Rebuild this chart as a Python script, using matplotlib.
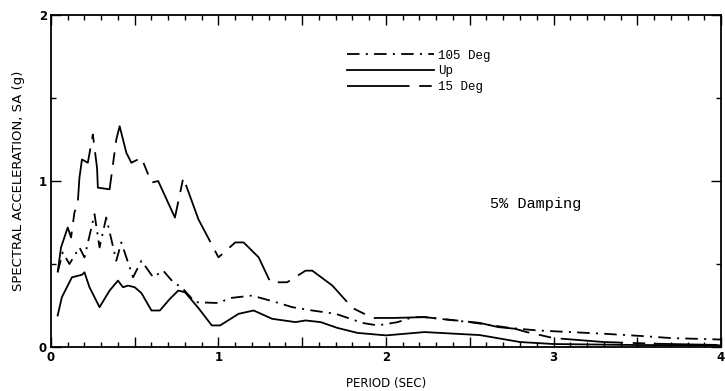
import numpy as np
import matplotlib
matplotlib.use("Agg")
import matplotlib.pyplot as plt
from matplotlib.ticker import MultipleLocator, FuncFormatter

period_15 = [0.04, 0.06, 0.10, 0.12, 0.14, 0.16, 0.17, 0.185, 0.22, 0.25, 0.275, 0.28,
             0.35, 0.39, 0.41, 0.45, 0.48, 0.54, 0.60, 0.64, 0.74, 0.79, 0.88, 1.0,
             1.10, 1.15, 1.24, 1.31, 1.41, 1.52, 1.56, 1.68, 1.80, 1.92, 2.04, 2.23,
             2.42, 2.56, 2.67, 2.77, 2.84, 3.0, 3.3, 3.6, 4.0]
sa_15 = [0.45, 0.60, 0.72, 0.66, 0.81, 0.87, 1.02, 1.13, 1.11, 1.28, 1.08, 0.96,
         0.95, 1.25, 1.33, 1.17, 1.11, 1.14, 0.99, 1.0, 0.78, 1.02, 0.77, 0.54,
         0.63, 0.63, 0.54, 0.39, 0.39, 0.46, 0.46, 0.37, 0.235, 0.175, 0.175, 0.18,
         0.16, 0.145, 0.12, 0.11, 0.09, 0.054, 0.03, 0.02, 0.012]

period_105 = [0.04, 0.07, 0.11, 0.17, 0.20, 0.26, 0.29, 0.33, 0.39, 0.42, 0.49, 0.54,
              0.61, 0.67, 0.73, 0.78, 0.86, 1.0, 1.07, 1.2, 1.36, 1.44, 1.56, 1.70,
              1.86, 1.95, 2.07, 2.16, 2.23, 2.5, 2.74, 2.90, 3.10, 3.30, 3.53, 3.7, 4.0]
sa_105 = [0.45, 0.57, 0.50, 0.60, 0.54, 0.80, 0.60, 0.78, 0.52, 0.63, 0.42, 0.52,
          0.42, 0.46, 0.39, 0.36, 0.27, 0.265, 0.295, 0.31, 0.265, 0.24, 0.22, 0.20,
          0.145, 0.13, 0.15, 0.18, 0.18, 0.15, 0.115, 0.10, 0.09, 0.08, 0.066, 0.054, 0.045]

period_up = [0.04, 0.065, 0.095, 0.125, 0.185, 0.2, 0.23, 0.29, 0.35, 0.40, 0.43, 0.46,
             0.50, 0.54, 0.60, 0.65, 0.71, 0.76, 0.80, 0.88, 0.96, 1.01, 1.12, 1.21,
             1.32, 1.46, 1.52, 1.61, 1.71, 1.83, 2.0, 2.23, 2.56, 2.8, 3.0, 3.5, 4.0]
sa_up = [0.19, 0.30, 0.36, 0.42, 0.435, 0.45, 0.36, 0.24, 0.34, 0.40, 0.36, 0.37,
         0.36, 0.325, 0.22, 0.22, 0.29, 0.34, 0.33, 0.235, 0.13, 0.13, 0.20, 0.22,
         0.17, 0.15, 0.16, 0.15, 0.115, 0.085, 0.07, 0.09, 0.072, 0.03, 0.018, 0.012, 0.01]

plt.rcParams["lines.scale_dashes"] = False

fig = plt.figure(figsize=(7.25, 3.91), dpi=100)
ax = fig.add_axes([0.0703, 0.1125, 0.9242, 0.8491])

lw = 1.3
ax.plot(period_105, sa_105, color="black", lw=lw, linestyle=(0, (9, 4.5, 1.5, 4.5)), label="105 Deg")
ax.plot(period_up, sa_up, color="black", lw=lw, linestyle="-", label="Up")
ax.plot(period_15, sa_15, color="black", lw=lw, linestyle=(0, (45, 7, 9, 7)), label="15 Deg")

ax.set_xlim(0, 4)
ax.set_ylim(0, 2)

ax.xaxis.set_major_locator(MultipleLocator(0.5))
ax.xaxis.set_minor_locator(MultipleLocator(0.1))
ax.yaxis.set_major_locator(MultipleLocator(1))
ax.yaxis.set_minor_locator(MultipleLocator(0.5))
ax.xaxis.set_major_formatter(FuncFormatter(lambda v, p: "%d" % v if abs(v - round(v)) < 1e-6 else ""))
ax.yaxis.set_major_formatter(FuncFormatter(lambda v, p: "%d" % v))

ax.tick_params(which="both", direction="in", top=True, right=True, width=1.0,
               labelsize=8.5, pad=3)
ax.tick_params(which="major", length=7)
ax.tick_params(which="minor", length=3.5)
for lbl in ax.get_xticklabels() + ax.get_yticklabels():
    lbl.set_fontweight("bold")
for s in ax.spines.values():
    s.set_linewidth(1.3)

ax.set_xlabel("PERIOD (SEC)", fontsize=8.5, labelpad=9)
ax.set_ylabel("SPECTRAL ACCELERATION, SA (g)", fontsize=9.5, labelpad=10)

ax.text(2.62, 0.84, "5% Damping", fontsize=11, family="Liberation Mono")

ax.legend(loc="upper left", bbox_to_anchor=(0.425, 0.93), frameon=False,
          handlelength=7.0, handletextpad=0.3, labelspacing=0.3,
          prop={"family": "Liberation Mono", "size": 9})

fig.savefig("out.png", dpi=100)
